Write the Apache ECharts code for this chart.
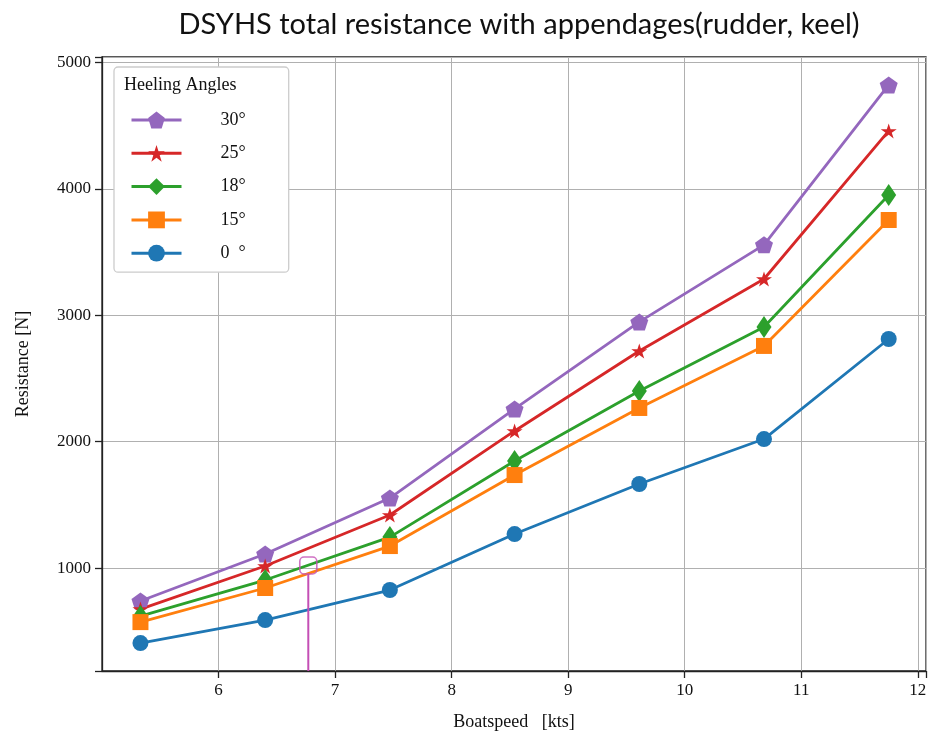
<!DOCTYPE html>
<html>
<head>
<meta charset="utf-8">
<script src="https://cdn.jsdelivr.net/npm/echarts@6/dist/echarts.min.js"></script>
<style>html,body{margin:0;padding:0;background:#fff}#c{width:932px;height:738px}</style>
</head>
<body>
<div id="c"></div>
<script>
const speeds = [5.33, 6.40, 7.47, 8.54, 9.61, 10.68, 11.75];
const res0  = [406, 588, 826, 1269, 1665, 2021, 2813];
const res15 = [572, 842, 1174, 1736, 2267, 2758, 3755];
const res18 = [620, 905, 1245, 1847, 2401, 2908, 3953];
const res25 = [675, 1016, 1420, 2085, 2718, 3288, 4460];
const res30 = [739, 1111, 1554, 2259, 2948, 3558, 4824];
const seriesNames = ['30°', '25°', '18°', '15°', '0  °'];
const cursorX = 6.77;
const cursorY = 1020;

const starPath = 'path://M0,-1L0.2245,-0.309L0.951,-0.309L0.3633,0.118L0.588,0.809L0,0.382L-0.588,0.809L-0.3633,0.118L-0.951,-0.309L-0.2245,-0.309Z';
const pentPath = 'path://M0,-1L0.951,-0.309L0.588,0.809L-0.588,0.809L-0.951,-0.309Z';

const FONT = 'Liberation Serif';
const pairs = arr => speeds.map((x, i) => [x, arr[i]]);
const isWhole = (v, step) => Math.abs(v / step - Math.round(v / step)) < 1e-6;

function mk(name, data, color, symbol, size) {
  return {
    name, type: 'line', data: pairs(data), color,
    symbol, symbolSize: size, showSymbol: true,
    lineStyle: { width: 2.8, color },
    itemStyle: { color, borderWidth: 0 },
    emphasis: { disabled: true }, animation: false, z: 3
  };
}

const chart = echarts.init(document.getElementById('c'), null, { renderer: 'canvas' });
chart.setOption({
  animation: false,
  backgroundColor: '#fff',
  grid: { left: 102, right: 6, top: 57, bottom: 67, show: true, borderColor: '#222', borderWidth: 1.3, containLabel: false },
  title: {
    text: 'DSYHS total resistance with appendages(rudder, keel)',
    left: 514, top: 5, textAlign: 'center',
    textStyle: { fontFamily: 'Lato', fontSize: 29, fontWeight: 'normal', color: '#111' }
  },
  xAxis: {
    type: 'value', min: 5, max: 12.07, interval: 1,
    name: 'Boatspeed   [kts]', nameLocation: 'middle', nameGap: 42,
    nameTextStyle: { fontFamily: FONT, fontSize: 18, color: '#111' },
    axisLine: { show: true, onZero: false, lineStyle: { color: '#222', width: 1.3 } },
    axisTick: { show: true, inside: false, length: 7, lineStyle: { color: '#222', width: 1.3 } },
    axisLabel: { fontFamily: FONT, fontSize: 17, color: '#111', margin: 11, showMinLabel: false,
      formatter: v => (isWhole(v, 1) && v > 5.5 ? String(Math.round(v)) : '') },
    splitLine: { show: true, lineStyle: { color: '#b0b0b0', width: 1 } }
  },
  yAxis: {
    type: 'value', min: 185, max: 5045, splitNumber: 5,
    name: 'Resistance [N]', nameLocation: 'middle', nameGap: 70, nameRotate: 90,
    nameTextStyle: { fontFamily: FONT, fontSize: 18, color: '#111' },
    axisLine: { show: true, onZero: false, lineStyle: { color: '#222', width: 1.3 } },
    axisTick: { show: true, inside: false, length: 7, lineStyle: { color: '#222', width: 1.3 } },
    axisLabel: { fontFamily: FONT, fontSize: 17, color: '#111', margin: 11,
      formatter: v => (isWhole(v, 1000) ? String(Math.round(v)) : '') },
    splitLine: { show: true, lineStyle: { color: '#b0b0b0', width: 1 } }
  },
  legend: {
    left: 114, top: 67, orient: 'vertical',
    data: seriesNames,
    backgroundColor: '#fff', borderColor: '#cccccc', borderWidth: 1.3, borderRadius: 4,
    padding: [44, 43, 10, 16], itemGap: 15.3, itemWidth: 50, itemHeight: 21,
    lineStyle: { width: 3 },
    textStyle: { fontFamily: FONT, fontSize: 18, color: '#111', padding: [0, 0, 0, 34] },
    selectedMode: false
  },
  graphic: [{
    type: 'text', left: 124, top: 76, z: 100,
    style: { text: 'Heeling Angles', font: '18px "' + FONT + '"', fill: '#111' }
  }],
  series: [
    mk(seriesNames[0], res30, '#9467bd', pentPath, [18, 17]),
    mk(seriesNames[1], res25, '#d62728', starPath, [16, 15]),
    mk(seriesNames[2], res18, '#2ca02c', 'diamond', [15, 22]),
    mk(seriesNames[3], res15, '#ff7f0e', 'rect', [16, 16]),
    mk(seriesNames[4], res0, '#1f77b4', 'circle', 16),
    {
      name: 'cursor-line', type: 'line', data: [[cursorX, 185], [cursorX, cursorY - 65]],
      symbol: 'none', lineStyle: { color: '#c44fb5', width: 2 }, color: '#c44fb5',
      emphasis: { disabled: true }, z: 5, silent: true
    },
    {
      name: 'cursor-box', type: 'scatter', data: [[cursorX, cursorY]],
      symbol: 'roundRect', symbolSize: 17,
      itemStyle: { color: 'rgba(0,0,0,0)', borderColor: '#c44fb5', borderWidth: 1.6 },
      emphasis: { disabled: true }, z: 5, silent: true
    }
  ]
});
</script>
</body>
</html>
